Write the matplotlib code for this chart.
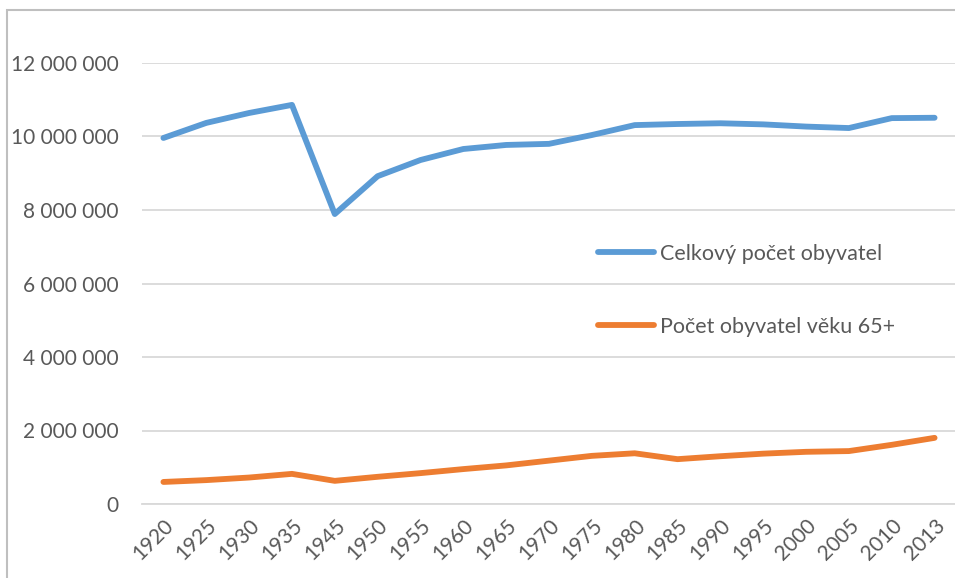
import numpy as np
import matplotlib
matplotlib.use('Agg')
from matplotlib import pyplot as plt
from matplotlib.patches import Rectangle
from matplotlib.ticker import FuncFormatter

# data
years = ['1920', '1925', '1930', '1935', '1945', '1950', '1955', '1960', '1965', '1970',
         '1975', '1980', '1985', '1990', '1995', '2000', '2005', '2010', '2013']
total_pop = [9.96e6, 10.37e6, 10.64e6, 10.86e6, 7.89e6, 8.92e6, 9.36e6, 9.66e6, 9.77e6, 9.80e6,
             10.04e6, 10.31e6, 10.34e6, 10.36e6, 10.33e6, 10.27e6, 10.23e6, 10.50e6, 10.51e6]
pop_65 = [0.60e6, 0.65e6, 0.72e6, 0.82e6, 0.63e6, 0.74e6, 0.84e6, 0.95e6, 1.05e6, 1.18e6,
          1.31e6, 1.38e6, 1.22e6, 1.30e6, 1.37e6, 1.42e6, 1.44e6, 1.61e6, 1.80e6]
labels = ['Celkový počet obyvatel', 'Počet obyvatel věku 65+']

plt.rcParams['font.family'] = ['Lato', 'DejaVu Sans']
txt_col = '#595959'
grid_col = '#D9D9D9'

fig = plt.figure(figsize=(9.55, 5.78), dpi=100)
ax = fig.add_axes([142/955, 1 - 504/578, 814/955, (504 - 63)/578])

x = np.arange(len(years))
ax.plot(x, total_pop, color='#5B9BD5', lw=4.2, solid_capstyle='round', solid_joinstyle='round', label=labels[0])
ax.plot(x, pop_65, color='#ED7D31', lw=4.2, solid_capstyle='round', solid_joinstyle='round', label=labels[1])

ax.set_xlim(-0.5, len(years) - 0.5)
ax.set_ylim(0, 12e6)
ax.set_yticks(np.arange(0, 12e6 + 1, 2e6))
ax.yaxis.set_major_formatter(FuncFormatter(lambda v, p: '{:,.0f}'.format(v).replace(',', ' ')))
ax.set_xticks(x)
ax.set_xticklabels(years, rotation=45, ha='right', rotation_mode='anchor')
ax.tick_params(length=0, colors=txt_col, labelsize=15)
ax.tick_params(axis='y', pad=17)
ax.tick_params(axis='x', pad=8)
ax.grid(axis='y', color=grid_col, lw=1.3)
ax.set_axisbelow(True)
for s in ['top', 'right', 'left']:
    ax.spines[s].set_visible(False)
ax.spines['bottom'].set_color(grid_col)
ax.spines['bottom'].set_linewidth(1.3)
ax.set_clip_on(False)

leg = ax.legend(loc='upper left', bbox_to_anchor=(598/955, 1 - 244/578), bbox_transform=fig.transFigure,
                frameon=False, fontsize=15.5, handlelength=2.6, handletextpad=0.3,
                labelspacing=2.45, borderpad=0, borderaxespad=0)
for t in leg.get_texts():
    t.set_color(txt_col)

# outer chart border
fig.patches.append(Rectangle((7/955, -0.1), 1.1, 1 - 10/578 + 0.1, transform=fig.transFigure,
                             fill=False, edgecolor='#BFBFBF', lw=1.5))

fig.savefig('out.png', dpi=100)
